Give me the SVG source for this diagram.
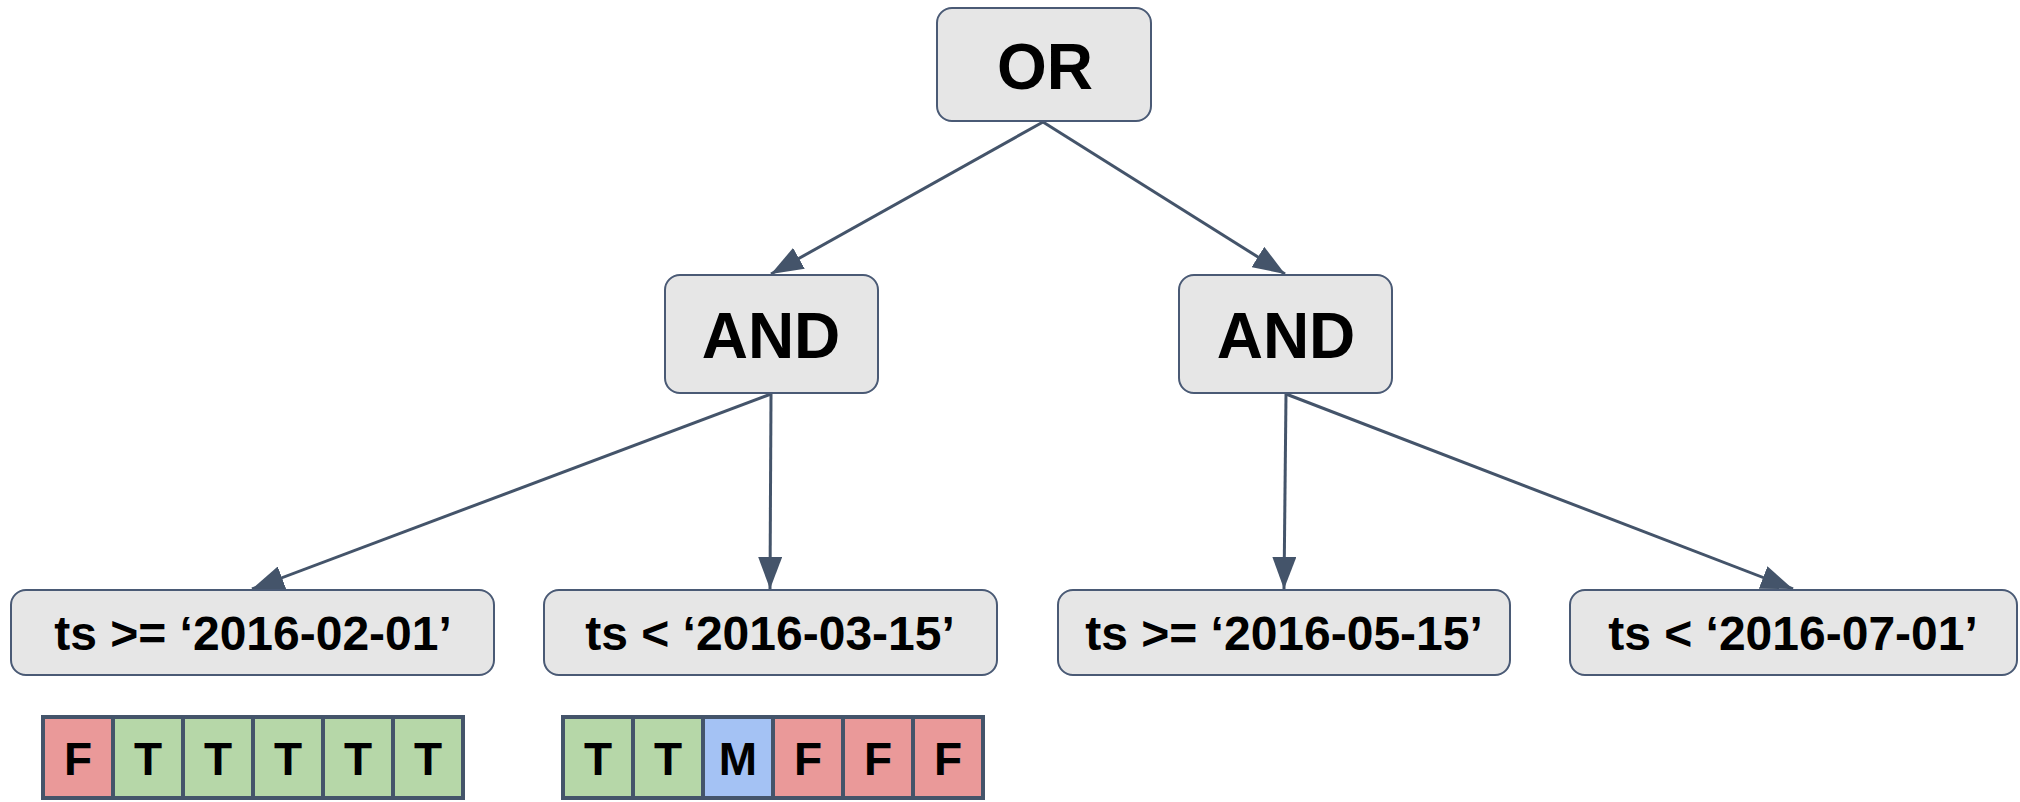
<svg xmlns="http://www.w3.org/2000/svg" width="2020" height="802" viewBox="0 0 2020 802">
<style>
.box{fill:#e6e6e6;stroke:#4a5a75;stroke-width:2}
.lbl{font-family:"Liberation Sans",Arial,sans-serif;font-weight:bold;fill:#000;text-anchor:middle}
.big{font-size:64px}
.mid{font-size:48px}
.bit{font-size:46px}
.edge{stroke:#44546a;stroke-width:3;fill:none}
.cell{stroke:#44546a;stroke-width:4}
.F{fill:#ea9999}
.T{fill:#b6d7a8}
.M{fill:#a4c2f4}
</style>
<defs>
<marker id="ah" viewBox="0 0 32 24" refX="32" refY="12" markerWidth="32" markerHeight="24" markerUnits="userSpaceOnUse" orient="auto">
<path d="M0,0 L32,12 L0,24 z" fill="#44546a"/>
</marker>
</defs>
<g id="connectors">
<line class="edge" x1="1043" y1="122" x2="771" y2="274" marker-end="url(#ah)"/>
<line class="edge" x1="1043" y1="122" x2="1285" y2="274" marker-end="url(#ah)"/>
<line class="edge" x1="771" y1="394" x2="252" y2="589" marker-end="url(#ah)"/>
<line class="edge" x1="771" y1="394" x2="770" y2="589" marker-end="url(#ah)"/>
<line class="edge" x1="1286" y1="394" x2="1284" y2="589" marker-end="url(#ah)"/>
<line class="edge" x1="1286" y1="394" x2="1793" y2="589" marker-end="url(#ah)"/>
</g>
<g id="or">
<rect class="box" x="937" y="8" width="214" height="113" rx="15"/>
<text class="lbl big" x="1045" y="89">OR</text>
</g>
<g id="and-left">
<rect class="box" x="665" y="275" width="213" height="118" rx="15"/>
<text class="lbl big" x="771" y="358">AND</text>
</g>
<g id="and-right">
<rect class="box" x="1179" y="275" width="213" height="118" rx="15"/>
<text class="lbl big" x="1286" y="358">AND</text>
</g>
<g id="leaf1">
<rect class="box" x="11" y="590" width="483" height="85" rx="15"/>
<text class="lbl mid" x="253" y="650">ts &gt;= ‘2016-02-01’</text>
</g>
<g id="leaf2">
<rect class="box" x="544" y="590" width="453" height="85" rx="15"/>
<text class="lbl mid" x="770" y="650">ts &lt; ‘2016-03-15’</text>
</g>
<g id="leaf3">
<rect class="box" x="1058" y="590" width="452" height="85" rx="15"/>
<text class="lbl mid" x="1284" y="650">ts &gt;= ‘2016-05-15’</text>
</g>
<g id="leaf4">
<rect class="box" x="1570" y="590" width="447" height="85" rx="15"/>
<text class="lbl mid" x="1793" y="650">ts &lt; ‘2016-07-01’</text>
</g>
<g id="bits1">
<rect class="cell F" x="43" y="717" width="70" height="81"/>
<rect class="cell T" x="113" y="717" width="70" height="81"/>
<rect class="cell T" x="183" y="717" width="70" height="81"/>
<rect class="cell T" x="253" y="717" width="70" height="81"/>
<rect class="cell T" x="323" y="717" width="70" height="81"/>
<rect class="cell T" x="393" y="717" width="70" height="81"/>
<text class="lbl bit" x="78" y="775">F</text>
<text class="lbl bit" x="148" y="775">T</text>
<text class="lbl bit" x="218" y="775">T</text>
<text class="lbl bit" x="288" y="775">T</text>
<text class="lbl bit" x="358" y="775">T</text>
<text class="lbl bit" x="428" y="775">T</text>
</g>
<g id="bits2">
<rect class="cell T" x="563" y="717" width="70" height="81"/>
<rect class="cell T" x="633" y="717" width="70" height="81"/>
<rect class="cell M" x="703" y="717" width="70" height="81"/>
<rect class="cell F" x="773" y="717" width="70" height="81"/>
<rect class="cell F" x="843" y="717" width="70" height="81"/>
<rect class="cell F" x="913" y="717" width="70" height="81"/>
<text class="lbl bit" x="598" y="775">T</text>
<text class="lbl bit" x="668" y="775">T</text>
<text class="lbl bit" x="738" y="775">M</text>
<text class="lbl bit" x="808" y="775">F</text>
<text class="lbl bit" x="878" y="775">F</text>
<text class="lbl bit" x="948" y="775">F</text>
</g>
</svg>
